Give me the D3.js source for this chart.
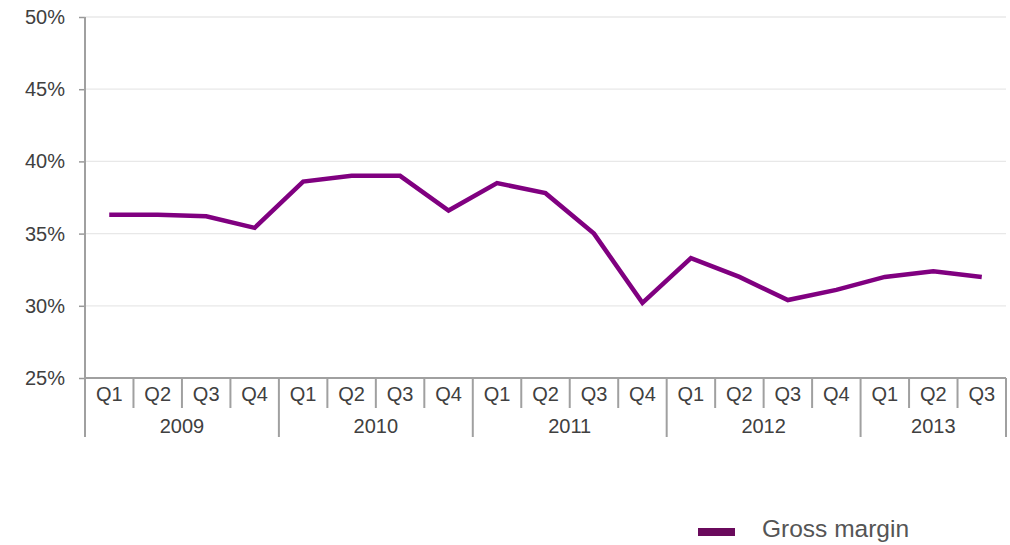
<!DOCTYPE html>
<html><head><meta charset="utf-8">
<script src="https://cdn.jsdelivr.net/npm/d3@7"></script>
<style>body{margin:0;background:#fff}svg{display:block}text{font-family:"Liberation Sans",Arial,sans-serif}</style>
</head><body><svg id="c" width="1010" height="545"></svg>
<script>
const years = ["2009","2010","2011","2012","2013"];
const quarters = ["Q1","Q2","Q3","Q4","Q1","Q2","Q3","Q4","Q1","Q2","Q3","Q4","Q1","Q2","Q3","Q4","Q1","Q2","Q3"];
const yearOf = [0,0,0,0,1,1,1,1,2,2,2,2,3,3,3,3,4,4,4];
const grossMargin = [36.3,36.3,36.2,35.4,38.6,39.0,39.0,36.6,38.5,37.8,35.0,30.2,33.3,32.0,30.4,31.1,32.0,32.4,32.0];
const yTicks = [25,30,35,40,45,50];
const seriesName = "Gross margin";

const svg = d3.select("#c");
const L = 85, R = 1006, T = 17, B = 378;
const FS = "20px";
const idx = d3.range(quarters.length);
const x = d3.scaleBand().domain(idx).range([L, R]).padding(0);
const y = d3.scaleLinear().domain([25,50]).range([B, T]);

// gridlines
svg.append("g").selectAll("line").data(yTicks.filter(d=>d>25)).join("line")
  .attr("x1", L).attr("x2", R).attr("y1", d=>y(d)).attr("y2", d=>y(d))
  .attr("stroke", "#e8e8e8").attr("stroke-width", 1.3);

// y axis
const yAxis = d3.axisLeft(y).tickValues(yTicks).tickFormat(d=>d+"%").tickSize(6).tickPadding(14);
const gy = svg.append("g").attr("transform", `translate(${L},0)`).call(yAxis);
gy.select(".domain").remove();
gy.selectAll(".tick line").attr("stroke", "#999").attr("stroke-width", 1.5);
gy.selectAll(".tick text").attr("fill", "#404040").style("font-size", FS).attr("font-family", '"Liberation Sans",Arial,sans-serif');

// axis lines
const gray = "#a0a0a0";
svg.append("line").attr("x1", L).attr("x2", L).attr("y1", T).attr("y2", 437).attr("stroke", gray).attr("stroke-width", 2);
svg.append("line").attr("x1", L).attr("x2", R).attr("y1", B).attr("y2", B).attr("stroke", gray).attr("stroke-width", 2);

// quarter separators
const gx = svg.append("g");
idx.slice(1).forEach(i => {
  const isYear = yearOf[i] !== yearOf[i-1];
  gx.append("line").attr("x1", x(i)).attr("x2", x(i)).attr("y1", B).attr("y2", isYear ? 437 : 408)
    .attr("stroke", gray).attr("stroke-width", 2);
});
gx.append("line").attr("x1", R).attr("x2", R).attr("y1", B).attr("y2", 437).attr("stroke", gray).attr("stroke-width", 2);

gx.selectAll("text.q").data(idx).join("text").attr("class","q")
  .attr("x", i => x(i) + x.bandwidth()/2).attr("y", 401)
  .attr("text-anchor", "middle").attr("fill", "#404040").style("font-size", FS)
  .text(i => quarters[i]);

years.forEach((yr, k) => {
  const members = idx.filter(i => yearOf[i] === k);
  const x0 = x(members[0]), x1 = x(members[members.length-1]) + x.bandwidth();
  gx.append("text").attr("x", (x0+x1)/2).attr("y", 433).attr("text-anchor", "middle")
    .attr("fill", "#404040").style("font-size", FS).text(yr);
});

// line
const line = d3.line().x((d,i) => x(i) + x.bandwidth()/2).y(d => y(d));
svg.append("path").datum(grossMargin).attr("d", line).attr("fill", "none")
  .attr("stroke", "#800080").attr("stroke-width", 4.5).attr("stroke-linejoin", "miter");

// legend
svg.append("rect").attr("x", 698).attr("y", 528).attr("width", 37).attr("height", 8).attr("fill", "#6a0a5c");
svg.append("text").attr("x", 762).attr("y", 537).attr("fill", "#555").style("font-size", "24.5px").text(seriesName);
</script></body></html>
